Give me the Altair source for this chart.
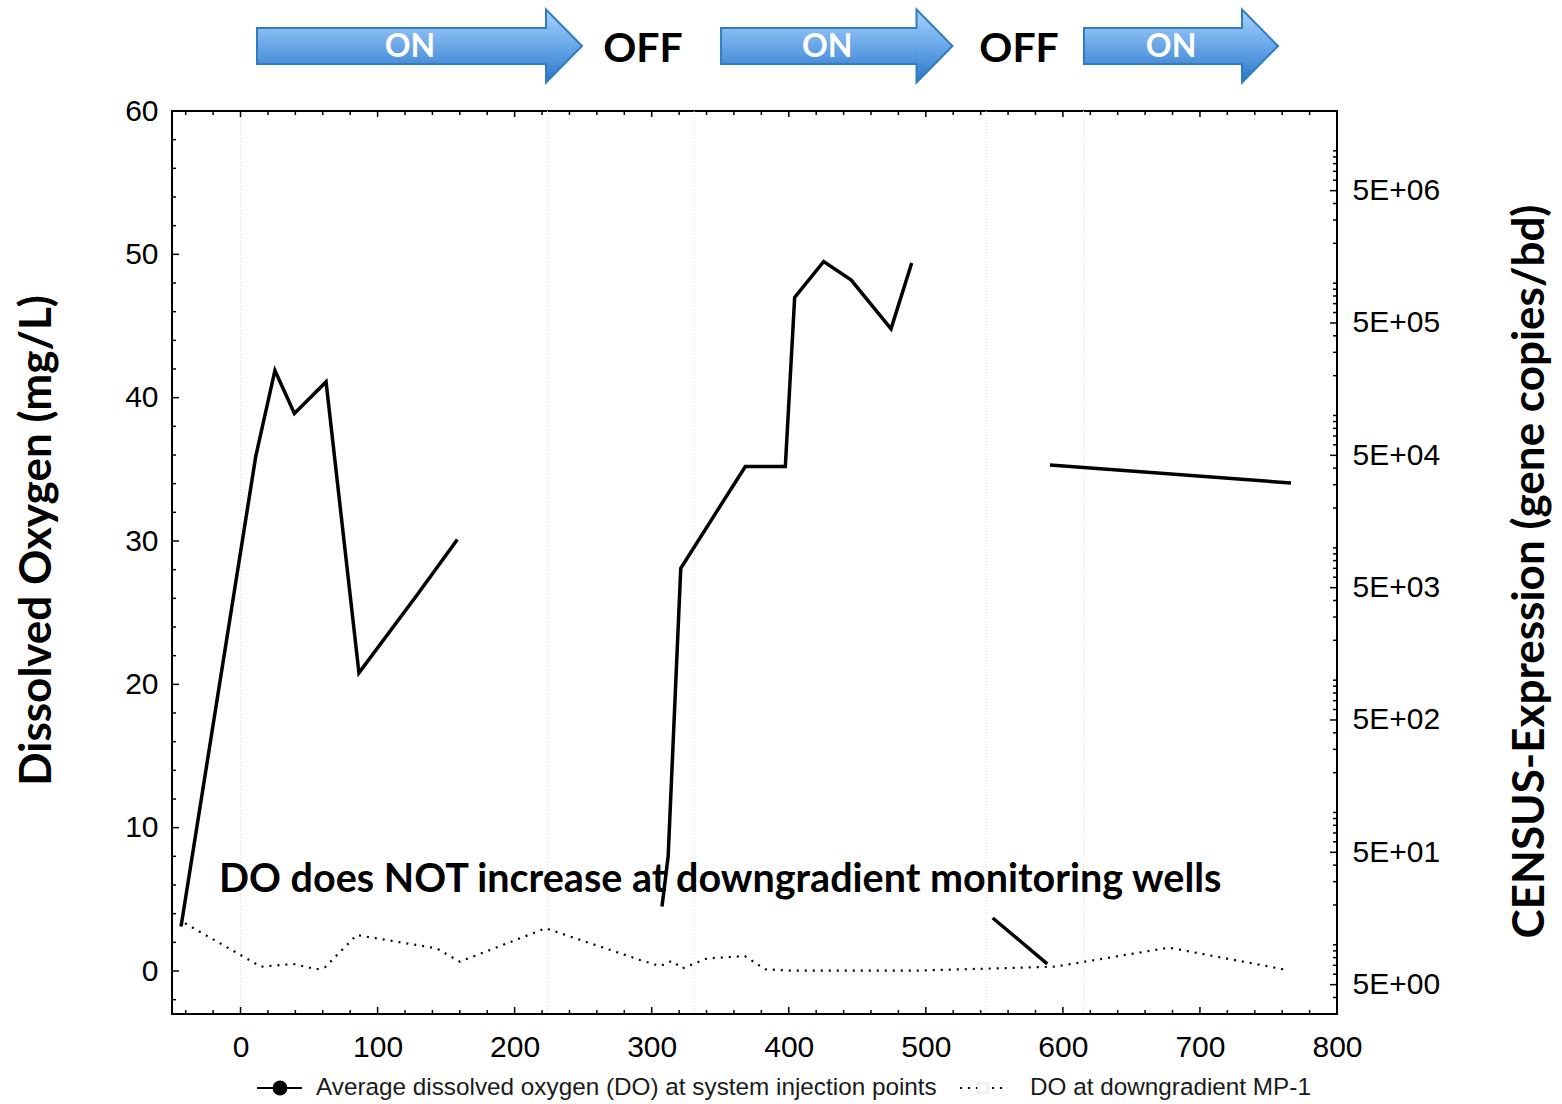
import altair as alt
import pandas as pd

# ---------------- data ----------------
# Average DO at system injection points (solid line, broken into segments)
inj_day = [-43.4, 11.1, 25.1, 39.3, 62.4, 86.4, 128.5, 158.2,
           307.5, 312.0, 321.2, 368.3, 397.5, 404.3, 425.5, 445.6, 474.6, 489.7,
           548.8, 588.6,
           590.6, 766.4]
inj_do = [3.1, 35.9, 41.9, 38.9, 41.1, 20.8, 26.2, 30.1,
          4.5, 8.0, 28.1, 35.2, 35.2, 47.0, 49.5, 48.2, 44.8, 49.4,
          3.7, 0.5,
          35.3, 34.05]
inj_seg = [1, 1, 1, 1, 1, 1, 1, 1,
           2, 2, 2, 2, 2, 2, 2, 2, 2, 2,
           3, 3,
           4, 4]

# DO at downgradient MP-1 (dotted line)
mp1_day = [-40.5, 14.9, 38.5, 55.6, 61.6, 84.8, 143.1, 160.1, 222.6,
           291.5, 306.0, 314.8, 322.4, 340.3, 368.0, 382.7, 402.2, 490.1,
           594.2, 677.4, 763.7]
mp1_do = [3.33, 0.30, 0.49, 0.12, 0.26, 2.51, 1.58, 0.65, 2.98,
          0.77, 0.35, 0.70, 0.19, 0.88, 1.04, 0.12, 0.02, 0.02,
          0.30, 1.63, 0.07]

# faint vertical reference lines (days)
ref_days = [0, 224, 331, 544, 615]

# system ON periods (days) and labels
on_start = [12.0, 350.6, 615.4]
on_end = [222.9, 493.2, 730.7]
on_label_day = [123.6, 428.0, 678.9]
on_labels = ["ON", "ON", "ON"]
off_label_day = [293.6, 568.0]
off_labels = ["OFF", "OFF"]

note_text = ["DO does NOT increase at downgradient monitoring wells"]
note_day = [350.0]
note_do = [6.35]

legend_labels = ["Average dissolved oxygen (DO) at system injection points",
                 "DO at downgradient MP-1"]

# axis ticks
x_major = list(range(0, 801, 100))
x_minor = [v for v in range(-40, 800, 20) if v % 100 != 0]
y_major = list(range(0, 61, 10))
y_minor = [v for v in range(-2, 60, 2) if v % 10 != 0]
r_major = [5 * 10 ** e for e in range(0, 7)]
r_minor = [k * 10 ** e for e in range(0, 8) for k in range(1, 10)
           if k != 5 and 3 < k * 10 ** e < 2e7]

# ---------------- chart ----------------
W, H = 1165, 903
xs = alt.Scale(domain=[-50, 800], nice=False, zero=False)
ys = alt.Scale(domain=[-3, 60], nice=False, zero=False)
rs = alt.Scale(type="log", domain=[3, 2e7], nice=False)

LABEL_FONT = "Liberation Sans"
BOLD_FONT = "Lato"

X_AXIS = alt.Axis(
    values=x_major, ticks=False, domain=False, grid=False, format="d",
    labelFont=LABEL_FONT, labelFontSize=30, labelColor="black",
    labelPadding=18, labelFlush=False, labelOverlap=False, title=None)
Y_AXIS = alt.Axis(
    values=y_major, ticks=False, domain=False, grid=False, format="d",
    labelFont=LABEL_FONT, labelFontSize=30, labelColor="black",
    labelPadding=14, labelFlush=False, labelOverlap=False,
    title="Dissolved Oxygen (mg/L)", titleFont=BOLD_FONT,
    titleFontSize=44, titleFontWeight="bold", titleColor="black",
    titleAngle=270, titleX=-135, titleY=429, titleAlign="center",
    titleBaseline="middle")
R_AXIS = alt.Axis(
    orient="right", values=r_major, ticks=False, domain=False, grid=False,
    labelExpr='"5E+0" + format(log(datum.value / 5) / LN10, ".0f")',
    labelFont=LABEL_FONT, labelFontSize=30, labelColor="black",
    labelPadding=15, labelFlush=False, labelOverlap=False,
    title="CENSUS-Expression (gene copies/bd)", titleFont=BOLD_FONT,
    titleFontSize=44, titleFontWeight="bold", titleColor="black",
    titleAngle=270, titleX=193, titleY=460, titleAlign="center",
    titleBaseline="middle")


def X(field):
    return alt.X(field, scale=xs, axis=X_AXIS)


def Y(field):
    return alt.Y(field, scale=ys, axis=Y_AXIS)


inj_df = pd.DataFrame({"day": inj_day, "do": inj_do, "seg": inj_seg})
mp1_df = pd.DataFrame({"day": mp1_day, "do": mp1_do})

ref = alt.Chart(pd.DataFrame({"day": ref_days})).mark_rule(
    color="#d9d9d9", strokeDash=[1, 2], strokeWidth=1
).encode(x=X("day:Q"))

mp1 = alt.Chart(mp1_df).mark_line(
    color="black", strokeWidth=2.2, strokeDash=[2, 6]
).encode(x=X("day:Q"), y=Y("do:Q"))

inj = alt.Chart(inj_df).mark_line(
    color="black", strokeWidth=3.5, strokeJoin="miter"
).encode(x=X("day:Q"), y=Y("do:Q"), detail="seg:N")


def xticks(vals, y0, y1):
    return alt.Chart(pd.DataFrame({"day": vals})).mark_rule(
        color="black", strokeWidth=1.5).encode(
        x=X("day:Q"), y=alt.value(y0), y2=alt.value(y1))


def yticks(vals, x0, x1):
    return alt.Chart(pd.DataFrame({"do": vals})).mark_rule(
        color="black", strokeWidth=1.5).encode(
        y=Y("do:Q"), x=alt.value(x0), x2=alt.value(x1))


tick_layers = [
    xticks(x_major, H, H - 7), xticks(x_minor, H, H - 4),
    xticks(x_major, 0, 6), xticks(x_minor, 0, 4),
    yticks(y_major, 0, 7), yticks(y_minor, 0, 4),
]

note = alt.Chart(pd.DataFrame({"t": note_text, "day": note_day, "do": note_do})).mark_text(
    font=BOLD_FONT, fontSize=39.5, fontWeight="bold", color="black",
    align="center", baseline="middle"
).encode(x=X("day:Q"), y=Y("do:Q"), text="t:N")

# arrows for ON periods
full_grad = alt.Gradient(gradient="linear", x1=0, x2=0, y1=0, y2=1, stops=[
    alt.GradientStop(color="#a9d2fa", offset=0),
    alt.GradientStop(color="#6aa8ea", offset=0.5),
    alt.GradientStop(color="#2a76c6", offset=1)])
body_grad = alt.Gradient(gradient="linear", x1=0, x2=0, y1=0, y2=1, stops=[
    alt.GradientStop(color="#89bdf2", offset=0),
    alt.GradientStop(color="#4a8fda", offset=1)])
ARROW_STROKE = "#2f7dc0"
phase_df = pd.DataFrame({"day": on_start, "end": on_end})
ARROW_CY = 46 - 111

body = alt.Chart(phase_df).mark_rect(
    fill=body_grad, stroke=ARROW_STROKE, strokeWidth=2
).encode(
    x=X("day:Q"), x2="end:Q",
    y=alt.value(ARROW_CY - 18), y2=alt.value(ARROW_CY + 18))

head = alt.Chart(pd.DataFrame({"day": on_end})).mark_point(
    shape="M 0 -1 L 0.986 0 L 0 1 Z", size=73 * 73, filled=True,
    fill=full_grad, stroke=ARROW_STROKE, strokeWidth=2, opacity=1,
    fillOpacity=1, strokeOpacity=1
).encode(x=X("day:Q"), y=alt.value(ARROW_CY))

cover_df = pd.DataFrame({"day": [e - 2.0 for e in on_end], "b": [e + 2.0 for e in on_end]})
cover = alt.Chart(cover_df).mark_rect(fill=body_grad, strokeWidth=0).encode(
    x=X("day:Q"), x2="b:Q",
    y=alt.value(ARROW_CY - 17), y2=alt.value(ARROW_CY + 17))

on_text = alt.Chart(pd.DataFrame({"t": on_labels, "day": on_label_day})).mark_text(
    font=BOLD_FONT, fontSize=32, fontWeight="bold", color="white",
    align="center", baseline="middle"
).encode(x=X("day:Q"), y=alt.value(47 - 111), text="t:N")

off_text = alt.Chart(pd.DataFrame({"t": off_labels, "day": off_label_day})).mark_text(
    font=BOLD_FONT, fontSize=41, fontWeight="bold", color="black",
    align="center", baseline="middle"
).encode(x=X("day:Q"), y=alt.value(50 - 111), text="t:N")

# legend (drawn below the plot)
LEG_Y = 1088 - 111
one = pd.DataFrame({"k": [0]})
leg_line1 = alt.Chart(one).mark_rule(color="black", strokeWidth=2).encode(
    x=alt.value(85), x2=alt.value(130), y=alt.value(LEG_Y))
leg_dot1 = alt.Chart(one).mark_point(
    shape="circle", filled=True, color="black", size=220, opacity=1).encode(
    x=alt.value(108), y=alt.value(LEG_Y))
leg_line2 = alt.Chart(one).mark_rule(color="black", strokeWidth=2, strokeDash=[2, 6]).encode(
    x=alt.value(788), x2=alt.value(833), y=alt.value(LEG_Y))
leg_box2 = alt.Chart(one).mark_point(
    shape="square", filled=True, fill="white", stroke="#eeeeee", size=90, opacity=1).encode(
    x=alt.value(811), y=alt.value(LEG_Y))
leg_text1 = alt.Chart(pd.DataFrame({"t": [legend_labels[0]]})).mark_text(
    font=LABEL_FONT, fontSize=24.3, color="#1a1a1a", align="left", baseline="middle"
).encode(x=alt.value(144), y=alt.value(LEG_Y), text="t:N")
leg_text2 = alt.Chart(pd.DataFrame({"t": [legend_labels[1]]})).mark_text(
    font=LABEL_FONT, fontSize=24.3, color="#1a1a1a", align="left", baseline="middle"
).encode(x=alt.value(858), y=alt.value(LEG_Y), text="t:N")

left = alt.layer(ref, mp1, inj, *tick_layers, note, body, head, cover,
                 on_text, off_text, leg_line1, leg_dot1, leg_line2, leg_box2,
                 leg_text1, leg_text2)


# right (log) axis with its ticks
def rticks(vals, x0):
    return alt.Chart(pd.DataFrame({"v": vals})).mark_rule(
        color="black", strokeWidth=1.5).encode(
        y=alt.Y("v:Q", scale=rs, axis=R_AXIS),
        x=alt.value(x0), x2=alt.value(W))


right = alt.layer(rticks(r_major, W - 7), rticks(r_minor, W - 4))

chart = alt.layer(left, right).resolve_scale(y="independent").properties(
    width=W, height=H,
    autosize=alt.AutoSizeParams(type="none"),
    padding={"left": 172, "top": 111, "right": 225, "bottom": 90},
    background="white",
).configure_view(stroke="black", strokeWidth=2)

chart.save("out.html", embed_options={"renderer": "svg", "actions": False})
